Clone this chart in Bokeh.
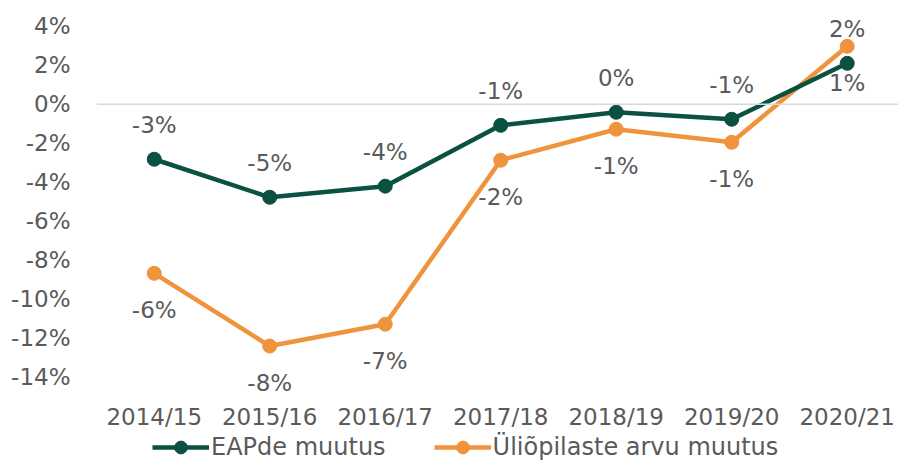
from bokeh.plotting import figure
from bokeh.models import (ColumnDataSource, Span, Legend, LegendItem, FixedTicker,
                          LabelSet)
from bokeh.core.properties import value
from bokeh.embed import file_html
from bokeh.resources import INLINE

# ---- data ----
years = ["2014/15", "2015/16", "2016/17", "2017/18", "2018/19", "2019/20", "2020/21"]
eap_change = [-0.0282, -0.0477, -0.0420, -0.0108, -0.0041, -0.0077, 0.0210]
student_change = [-0.0867, -0.1240, -0.1128, -0.0287, -0.0128, -0.0195, 0.0297]
eap_labels = ["-3%", "-5%", "-4%", "-1%", "0%", "-1%", "1%"]
student_labels = ["-6%", "-8%", "-7%", "-2%", "-1%", "-1%", "2%"]
y_ticks = [-0.14, -0.12, -0.10, -0.08, -0.06, -0.04, -0.02, 0.0, 0.02, 0.04]
y_tick_labels = ["-14%", "-12%", "-10%", "-8%", "-6%", "-4%", "-2%", "0%", "2%", "4%"]

GREEN = "#0b5141"
ORANGE = "#f0933d"
TEXT = "#5a5a5a"
FONT = "DejaVu Sans"
FS = "23px"

xs = list(range(len(years)))
n = len(years)

src_e = ColumnDataSource(dict(x=xs, y=eap_change, lab=eap_labels,
                              off=[34 if i < n - 1 else -20 for i in range(n)]))
src_s = ColumnDataSource(dict(x=xs, y=student_change, lab=student_labels,
                              off=[-37 if i < n - 1 else 17 for i in range(n)]))

p = figure(width=898, height=461, output_backend="svg", toolbar_location=None,
           x_range=(-0.5, 6.444), y_range=(-0.1832, 0.045),
           min_border_left=96, min_border_right=0, min_border_top=16, min_border_bottom=0)
p.outline_line_color = None
p.grid.visible = False
p.background_fill_color = "white"

p.add_layout(Span(location=0, dimension="width", line_color="#d9d9d9", line_width=1.5))

le = p.line("x", "y", source=src_s, line_color=ORANGE, line_width=4.5)
ce = p.scatter("x", "y", source=src_s, size=14, fill_color=ORANGE, line_color=ORANGE)
lg = p.line("x", "y", source=src_e, line_color=GREEN, line_width=4.5)
cg = p.scatter("x", "y", source=src_e, size=14, fill_color=GREEN, line_color=GREEN)

for src in (src_e, src_s):
    p.add_layout(LabelSet(x="x", y="y", text="lab", y_offset="off", source=src,
                          text_align="center", text_baseline="middle",
                          text_font=value(FONT), text_font_size=value(FS),
                          text_color=TEXT))

# axes
p.yaxis.ticker = FixedTicker(ticks=y_ticks)
p.yaxis.major_label_overrides = {t: l for t, l in zip(y_ticks, y_tick_labels)}
p.xaxis.ticker = FixedTicker(ticks=xs)
p.xaxis.major_label_overrides = {i: y for i, y in zip(xs, years)}
for ax in (p.xaxis, p.yaxis):
    ax.axis_line_color = None
    ax.major_tick_line_color = None
    ax.minor_tick_line_color = None
    ax.major_label_text_font = FONT
    ax.major_label_text_font_size = FS
    ax.major_label_text_color = TEXT
p.yaxis.major_label_standoff = 20
p.xaxis.major_label_standoff = -64

legend = Legend(items=[LegendItem(label="EAPde muutus", renderers=[lg, cg]),
                       LegendItem(label="Üliõpilaste arvu muutus", renderers=[le, ce])],
                orientation="horizontal", location=(56, -2),
                label_text_font=FONT, label_text_font_size="24px", label_text_color=TEXT,
                glyph_width=57, glyph_height=32, label_standoff=2, spacing=48,
                padding=0, margin=0, border_line_color=None, background_fill_alpha=0)
p.add_layout(legend, "center")

open("out.html", "w").write(file_html(p, INLINE))
